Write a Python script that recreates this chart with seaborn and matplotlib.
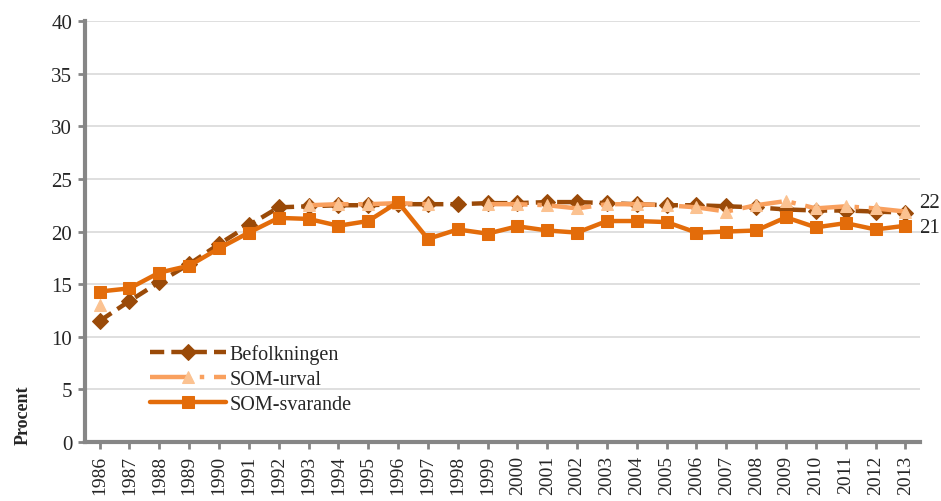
import numpy as np
import pandas as pd
import seaborn as sns
import matplotlib.pyplot as plt

years = list(range(1986, 2014))
befolkningen = [11.5, 13.4, 15.2, 16.9, 18.8, 20.6, 22.3, 22.4, 22.5, 22.5,
                22.6, 22.6, 22.6, 22.7, 22.7, 22.8, 22.8, 22.7, 22.6, 22.5,
                22.5, 22.4, 22.3, 22.1, 22.0, 22.0, 21.9, 21.8]
som_urval = [13.0, np.nan, np.nan, np.nan, np.nan, np.nan, np.nan, 22.5, 22.6, 22.6,
             22.7, 22.6, np.nan, 22.6, 22.6, 22.5, 22.2, 22.6, 22.6, 22.5,
             22.3, 21.9, 22.5, 22.9, 22.2, 22.4, 22.2, 21.9]
som_svarande = [14.3, 14.6, 16.1, 16.75, 18.4, 19.9, 21.3, 21.2, 20.55, 21.0,
                22.8, 19.3, 20.2, 19.8, 20.5, 20.1, 19.9, 21.0, 21.0, 20.9,
                19.9, 20.0, 20.1, 21.35, 20.4, 20.8, 20.2, 20.55]
series_names = ['Befolkningen', 'SOM-urval', 'SOM-svarande']

df = pd.DataFrame({'year': years, 'Befolkningen': befolkningen,
                   'SOM-urval': som_urval, 'SOM-svarande': som_svarande})

sns.set_style('white')
plt.rcParams['font.family'] = ['Liberation Serif', 'DejaVu Serif']

fig, ax = plt.subplots(figsize=(9.41, 5.02), dpi=100)
fig.subplots_adjust(left=0.090, right=0.978, top=0.956, bottom=0.1175)

styles = {
    'Befolkningen': dict(color='#9A4A08', marker='D', markersize=8,
                         mfc='#9A4A08', dashes=(3.2, 1.6)),
    'SOM-urval': dict(color='#F9A05E', marker='^', markersize=9,
                      mfc='#FBC291', dashes=(9, 2.2, 1, 2.2)),
    'SOM-svarande': dict(color='#E36C0A', marker='s', markersize=9,
                         mfc='#E36C0A', dashes=None),
}

handles = {}
for name in series_names:
    st = styles[name]
    # split into runs of non-missing values so gaps stay gaps
    run_id = df[name].isna().cumsum()
    sub = df[df[name].notna()].assign(run=run_id[df[name].notna()])
    for _, part in sub.groupby('run'):
        sns.lineplot(data=part, x='year', y=name, ax=ax, estimator=None,
                     color=st['color'], marker=st['marker'],
                     markersize=st['markersize'], markerfacecolor=st['mfc'],
                     markeredgecolor=st['mfc'], linewidth=3.2)
        line = ax.get_lines()[-1]
        if st['dashes']:
            line.set_dashes(st['dashes'])
        handles[name] = line

# end labels
ax.annotate(f"{round(befolkningen[-1])}", xy=(years[-1], befolkningen[-1]),
            xytext=(10, 7), textcoords='offset points', va='center', fontsize=15)
ax.annotate(f"{round(som_svarande[-1])}", xy=(years[-1], som_svarande[-1]),
            xytext=(10, -1), textcoords='offset points', va='center', fontsize=15)

ax.set_xlim(years[0] - 0.5, years[-1] + 0.5)
ax.set_ylim(0, 40)
ax.set_yticks(range(0, 41, 5))
ax.set_xticks(years)
ax.set_xticklabels([str(y) for y in years], rotation=90, fontsize=14)
ax.tick_params(axis='y', labelsize=15)
ax.tick_params(axis='both', direction='out', length=5, width=2, color='#868686',
               left=True, bottom=True, pad=4)
ax.yaxis.grid(True, color='#D9D9D9', linewidth=1.2)
ax.set_axisbelow(True)
for side in ['top', 'right']:
    ax.spines[side].set_visible(False)
for side in ['left', 'bottom']:
    ax.spines[side].set_color('#868686')
    ax.spines[side].set_linewidth(3)

ax.set_xlabel('')
ax.set_ylabel('Procent', fontsize=13, fontweight='bold')
ax.yaxis.set_label_coords(-0.063, 0.067)

ax.legend([handles[n] for n in series_names], series_names,
          loc='lower left', bbox_to_anchor=(0.056, 0.023), frameon=False,
          fontsize=14.5, handlelength=3.8, labelspacing=0.3, handletextpad=0.15)

plt.savefig('out.png', dpi=100)
